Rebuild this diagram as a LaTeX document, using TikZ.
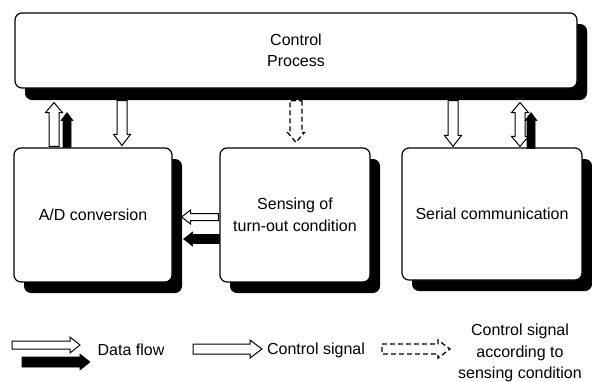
\documentclass[tikz,border=0pt]{standalone}
\usepackage{fontspec}
\setmainfont{Liberation Sans}
\usetikzlibrary{calc,shadows}

% block arrow: style, from, to, shaft half-width, head half-width, head length
\newcommand\barrow[6]{%
  \path #2 coordinate (bas) #3 coordinate (bae);
  \coordinate (bah) at ($(bae)!#6!(bas)$);
  \draw[#1] ($(bas)!#4!90:(bae)$) -- ($(bah)!#4!90:(bae)$) -- ($(bah)!#5!90:(bae)$)
    -- (bae) -- ($(bah)!#5!-90:(bae)$) -- ($(bah)!#4!-90:(bae)$)
    -- ($(bas)!#4!-90:(bae)$) -- cycle;
}
% block arrow with a head at both ends
\newcommand\dbarrow[6]{%
  \path #2 coordinate (bas) #3 coordinate (bae);
  \coordinate (bah) at ($(bae)!#6!(bas)$);
  \coordinate (bat) at ($(bas)!#6!(bae)$);
  \draw[#1] (bas) -- ($(bat)!#5!90:(bae)$) -- ($(bat)!#4!90:(bae)$)
    -- ($(bah)!#4!90:(bae)$) -- ($(bah)!#5!90:(bae)$) -- (bae)
    -- ($(bah)!#5!-90:(bae)$) -- ($(bah)!#4!-90:(bae)$)
    -- ($(bat)!#4!-90:(bae)$) -- ($(bat)!#5!-90:(bae)$) -- cycle;
}

\tikzset{
  box/.style={draw, line width=1.2pt, rounded corners=7pt, fill=white,
    inner sep=0pt, align=center, font=\fontsize{16}{21.5}\selectfont,
    drop shadow={shadow xshift=10pt, shadow yshift=-11pt, opacity=1, fill=black}},
  lbl/.style={inner sep=0pt, align=center, font=\fontsize{16}{21.5}\selectfont},
  hollow/.style={draw=black, fill=white, line width=1pt, line join=miter},
  blackarrow/.style={draw=black, fill=black, line width=0.6pt, line join=miter},
  dashedarrow/.style={hollow, line width=1.3pt, dash pattern=on 5pt off 3pt},
}

\begin{document}
\begin{tikzpicture}[x=1pt,y=-1pt]
\useasboundingbox[fill=white] (0,0) rectangle (592,381);

% blocks
\node[box, minimum width=562pt, minimum height=75pt,
  drop shadow={shadow xshift=10pt, shadow yshift=-12pt, opacity=1, fill=black}]
  (ctl) at (296,50.5) {Control\\Process};
\node[box, minimum width=158pt, minimum height=134pt] (ad) at (93,215) {A/D conversion};
\node[box, minimum width=150pt, minimum height=134pt] (sen) at (295,215) {Sensing of\\turn-out condition};
\node[box, minimum width=180pt, minimum height=132pt] (ser) at (492,214) {Serial communication};

% A/D conversion <-> control process
\barrow{hollow}{($(ad.north)+(-39,-1)$)}{($(ctl.south)+(-242,14)$)}{5pt}{8.5pt}{10pt}
\barrow{blackarrow}{($(ad.north)+(-26,0)$)}{($(ctl.south)+(-229,24)$)}{4pt}{6pt}{8pt}
\barrow{hollow}{($(ctl.south)+(-174,12)$)}{($(ad.north)+(29,-2)$)}{5pt}{8.5pt}{11pt}

% control process -> sensing (dashed)
\barrow{dashedarrow}{($(ctl.south)+(0,12)$)}{($(sen.north)+(1,-5)$)}{6pt}{8.5pt}{10pt}

% serial communication <-> control process
\barrow{hollow}{($(ctl.south)+(157,12)$)}{($(ser.north)+(-39,-1)$)}{5pt}{8.5pt}{11pt}
\dbarrow{hollow}{($(ser.north)+(28,-1)$)}{($(ctl.south)+(224,14)$)}{5pt}{8.5pt}{10pt}
\barrow{blackarrow}{($(ser.north)+(39,1)$)}{($(ctl.south)+(235,24)$)}{4pt}{6pt}{8pt}

% sensing -> A/D conversion
\barrow{hollow}{($(sen.west)+(-1,2)$)}{($(ad.east)+(9,2)$)}{3.5pt}{7pt}{9pt}
\barrow{blackarrow}{($(sen.west)+(0,24)$)}{($(ad.east)+(11,24)$)}{4.5pt}{7pt}{9pt}

% legend
\coordinate (l1s) at (12,345);  \coordinate (l1e) at (80,345);
\coordinate (l2s) at (22,362);  \coordinate (l2e) at (90,362);
\coordinate (l3s) at (193,349); \coordinate (l3e) at (262,349);
\coordinate (l4s) at (382,349); \coordinate (l4e) at (450,349);
\barrow{hollow}{(l1s)}{(l1e)}{4pt}{8pt}{10pt}
\barrow{blackarrow}{(l2s)}{(l2e)}{5pt}{8pt}{10pt}
\barrow{hollow}{(l3s)}{(l3e)}{5pt}{9pt}{12pt}
\barrow{dashedarrow}{(l4s)}{(l4e)}{5pt}{9pt}{12pt}
\node[lbl] (ldata) at (131,350) {Data flow};
\node[lbl] (lctl) at (316,350) {Control signal};
\node[lbl] (lsens) at (520,353) {Control signal\\according to\\sensing condition};
\end{tikzpicture}
\end{document}
